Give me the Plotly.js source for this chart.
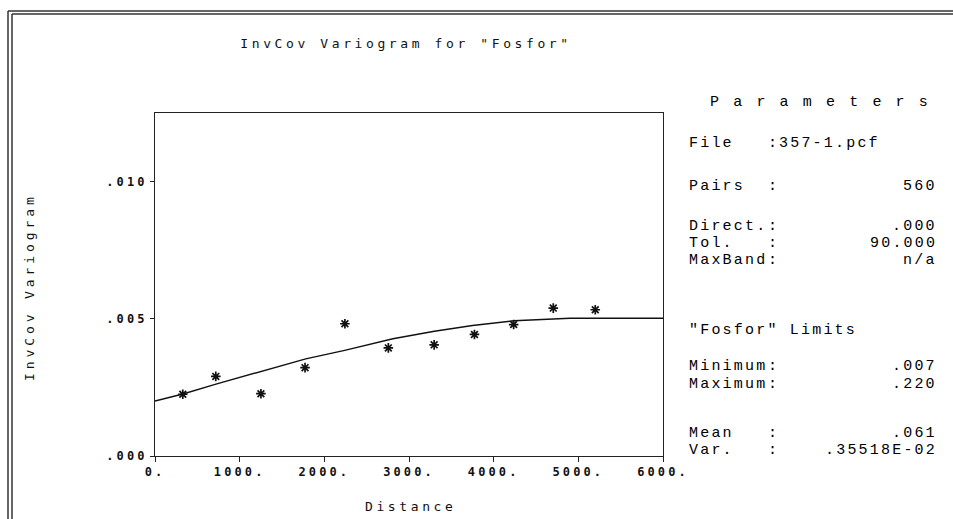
<!DOCTYPE html>
<html><head><meta charset="utf-8">
<script src="https://cdn.plot.ly/plotly-3.0.1.min.js"></script>
<style>
html,body{margin:0;padding:0;background:#fff;}
#chart{width:953px;height:519px;}
#chart .gtitle{letter-spacing:3.6px;}
#chart .xtick text, #chart .ytick text{letter-spacing:3.1px;}
</style></head><body><div id="chart"></div>
<script>
// ---- data ----
const lagDistance   = [328, 718, 1251, 1772, 2243, 2756, 3297, 3773, 4236, 4704, 5200];
const lagVariogram  = [0.00225, 0.00290, 0.00227, 0.00322, 0.00482, 0.00394, 0.00405, 0.00443, 0.00479, 0.00539, 0.00533];
const modelDistance = [0, 330, 720, 1170, 1780, 2240, 2810, 3300, 3750, 4240, 4820, 4900, 6000];
const modelVariogram= [0.00200, 0.00226, 0.00262, 0.00302, 0.00354, 0.00385, 0.00427, 0.00455, 0.00476, 0.00493, 0.00500, 0.00502, 0.00502];
const xTickValues = [0, 1000, 2000, 3000, 4000, 5000, 6000];
const xTickLabels = ['0.', '1000.', '2000.', '3000.', '4000.', '5000.', '6000.'];
const yTickValues = [0, 0.005, 0.010];
const yTickLabels = ['.000', '.005', '.010'];
const chartTitle = 'InvCov Variogram for "Fosfor"';
const xTitle = 'Distance';
const yTitle = 'InvCov Variogram';
const panelTitle = 'Parameters';
const paramNames  = ['File', 'Pairs', 'Direct.', 'Tol.', 'MaxBand', '"Fosfor" Limits', 'Minimum', 'Maximum', 'Mean', 'Var.'];
const paramColon  = [':', ':', ':', ':', ':', '', ':', ':', ':', ':'];
const paramValues = ['357-1.pcf', '560', '.000', '90.000', 'n/a', '', '.007', '.220', '.061', '.35518E-02'];

// ---- layout geometry (pixels) ----
const W = 953, H = 519;
const plotL = 155, plotR = 663, plotT = 113, plotB = 456;
const px = x => (x - plotL) / (plotR - plotL);
const py = y => (plotB - y) / (plotB - plotT);
const rowY = [143, 186, 226, 243, 260, 330, 366.5, 384, 433, 450];
const nameX = 687, colonX = 772, valueRightX = 939;
const fileValueX = 777;

const mono = 'Liberation Mono, DejaVu Sans Mono, monospace';
const sans = 'DejaVu Sans Mono, monospace';
const pfont = {family: mono, size: 15, color: '#000'};
const sp = (t, s) => '<span style="letter-spacing:' + s + 'px">' + t + '</span>';

const annotations = [];
annotations.push({xref:'paper', yref:'paper', x: px(826), y: py(102), xanchor:'center', yanchor:'middle',
  showarrow:false, text: sp(panelTitle, 14.2), font: pfont});
paramNames.forEach((n, i) => {
  annotations.push({xref:'paper', yref:'paper', x: px(nameX), y: py(rowY[i]), xanchor:'left', yanchor:'middle',
    showarrow:false, text: sp(n, 2.2), font: pfont});
  if (paramColon[i]) annotations.push({xref:'paper', yref:'paper', x: px(colonX), y: py(rowY[i]), xanchor:'center', yanchor:'middle',
    showarrow:false, text: paramColon[i], font: pfont});
  if (paramValues[i]) {
    const left = i === 0;
    annotations.push({xref:'paper', yref:'paper', x: left ? px(fileValueX) : px(valueRightX), y: py(rowY[i]),
      xanchor: left ? 'left' : 'right', yanchor:'middle', showarrow:false, text: sp(paramValues[i], 2.2), font: pfont});
  }
});
annotations.push({xref:'paper', yref:'paper', x: px(29), y: py(287), xanchor:'center', yanchor:'middle', textangle:-90,
  showarrow:false, text: sp(yTitle, 3.9), font:{family:sans, size:13, color:'#111'}});
annotations.push({xref:'paper', yref:'paper', x: px(410), y: py(506), xanchor:'center', yanchor:'middle',
  showarrow:false, text: sp(xTitle, 3.6), font:{family:sans, size:13, color:'#111'}});

const frame = {color:'#333', width:1.5};
const shapes = [
  {type:'line', xref:'paper', yref:'paper', x0:px(8),  x1:px(8),  y0:py(11), y1:py(530), line:frame},
  {type:'line', xref:'paper', yref:'paper', x0:px(12), x1:px(12), y0:py(14), y1:py(530), line:frame},
  {type:'line', xref:'paper', yref:'paper', x0:px(8),  x1:px(960), y0:py(11), y1:py(11), line:frame},
  {type:'line', xref:'paper', yref:'paper', x0:px(12), x1:px(960), y0:py(14), y1:py(14), line:frame}
];

const traces = [
  {x: modelDistance, y: modelVariogram, type:'scatter', mode:'lines', line:{color:'#111', width:1.5}, hoverinfo:'skip', name:'model'},
  {x: lagDistance, y: lagVariogram, type:'scatter', mode:'markers', name:'experimental',
   marker:{symbol:'asterisk-open', size:8, color:'#111', line:{color:'#111', width:1.7}}}
];

const layout = {
  width: W, height: H,
  margin: {l: plotL, r: W - plotR, t: plotT, b: H - plotB, pad: 0},
  paper_bgcolor:'#fff', plot_bgcolor:'#fff',
  showlegend:false,
  title: {text: chartTitle, x: 406 / W, xanchor:'center', y: 1 - 43 / H, yanchor:'middle', yref:'container',
          font:{family:sans, size:13, color:'#111'}},
  xaxis: {range:[0, 6000], tickmode:'array', tickvals:xTickValues, ticktext:xTickLabels,
          showgrid:false, zeroline:false, showline:true, mirror:true, linecolor:'#222', linewidth:1,
          ticks:'outside', ticklen:5, tickcolor:'#222',
          tickfont:{family:sans, size:12, color:'#111', weight:'bold'}},
  yaxis: {range:[0, 0.0125], tickmode:'array', tickvals:yTickValues, ticktext:yTickLabels,
          showgrid:false, zeroline:false, showline:true, mirror:true, linecolor:'#222', linewidth:1,
          ticks:'outside', ticklen:4, tickcolor:'#222',
          tickfont:{family:sans, size:12, color:'#111', weight:'bold'}},
  annotations: annotations,
  shapes: shapes
};

Plotly.newPlot('chart', traces, layout, {staticPlot:true, displayModeBar:false});
</script></body></html>
